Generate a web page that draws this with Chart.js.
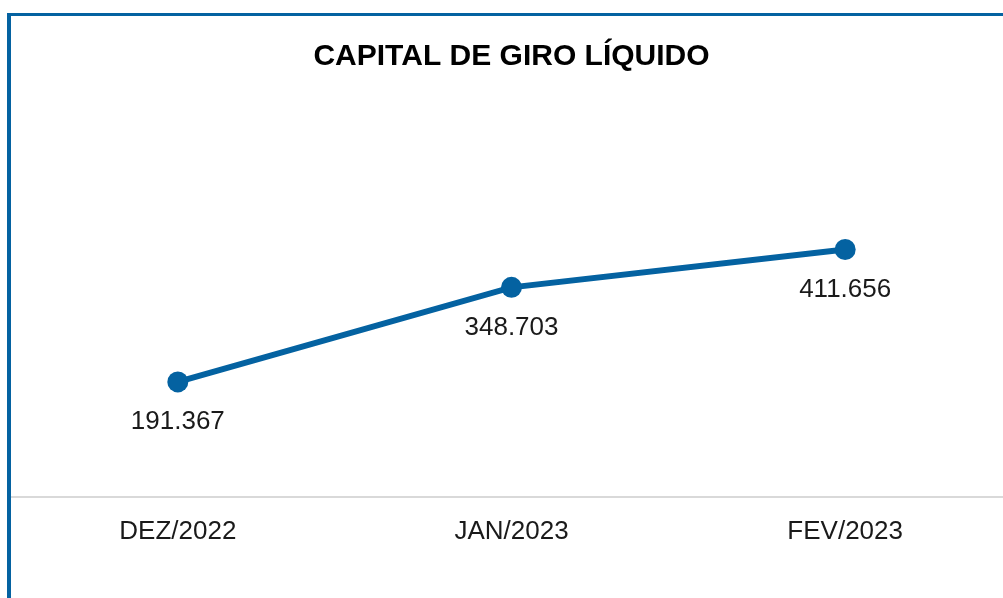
<!DOCTYPE html>
<html>
<head>
<meta charset="utf-8">
<script src="https://cdn.jsdelivr.net/npm/chart.js@4.4.1/dist/chart.umd.min.js"></script>
<style>
    html, body { margin: 0; padding: 0; background: #fff; overflow: hidden; }
    body { width: 1003px; height: 598px; position: relative; }
    .frame {
        position: absolute; left: 7px; top: 13px; width: 1100px; height: 700px;
        border-left: 4px solid #0462a1; border-top: 3px solid #0462a1;
    }
    .chart-box { position: absolute; left: 11px; top: 16px; width: 1001px; height: 582px; }
</style>
</head>
<body>
<div class="frame"></div>
<div class="chart-box"><canvas id="giro-chart"></canvas></div>
<script>
// Data
const months = ['DEZ/2022', 'JAN/2023', 'FEV/2023'];
const capitalGiro = [191367, 348703, 411656];
const valueLabels = ['191.367', '348.703', '411.656'];

const blue = '#0462a1';
const fontFamily = '"Liberation Sans", Arial, sans-serif';

// Value labels under each point
const pointLabels = {
    id: 'pointLabels',
    afterDatasetsDraw(chart) {
        const ctx = chart.ctx;
        const meta = chart.getDatasetMeta(0);
        ctx.save();
        ctx.font = '26px ' + fontFamily;
        ctx.fillStyle = '#1a1a1a';
        ctx.textAlign = 'center';
        ctx.textBaseline = 'middle';
        meta.data.forEach((pt, i) => {
            ctx.fillText(valueLabels[i], pt.x, pt.y + 40);
        });
        ctx.restore();
    }
};

new Chart(document.getElementById('giro-chart'), {
    type: 'line',
    data: {
        labels: months,
        datasets: [{
            data: capitalGiro,
            borderColor: blue,
            backgroundColor: blue,
            borderWidth: 6,
            pointRadius: 10.5,
            pointHoverRadius: 10.5,
            pointBackgroundColor: blue,
            pointBorderWidth: 0,
            tension: 0
        }]
    },
    options: {
        responsive: true,
        maintainAspectRatio: false,
        animation: false,
        layout: { padding: 0, autoPadding: false },
        plugins: {
            legend: { display: false },
            tooltip: { enabled: false },
            title: {
                display: true,
                text: 'CAPITAL DE GIRO LÍQUIDO',
                color: '#000',
                font: { family: fontFamily, size: 30, weight: 'bold', lineHeight: 1.2 },
                padding: { top: 23, bottom: 121.4 }
            }
        },
        scales: {
            x: {
                offset: true,
                grid: { display: false, drawTicks: false },
                border: { display: true, color: '#d9d9d9', width: 2 },
                ticks: {
                    color: '#1a1a1a',
                    padding: 19,
                    font: { family: fontFamily, size: 26 }
                },
                afterFit(scale) { scale.height = 101; }
            },
            y: {
                display: false,
                min: 0,
                max: 500000
            }
        }
    },
    plugins: [pointLabels]
});
</script>
</body>
</html>
